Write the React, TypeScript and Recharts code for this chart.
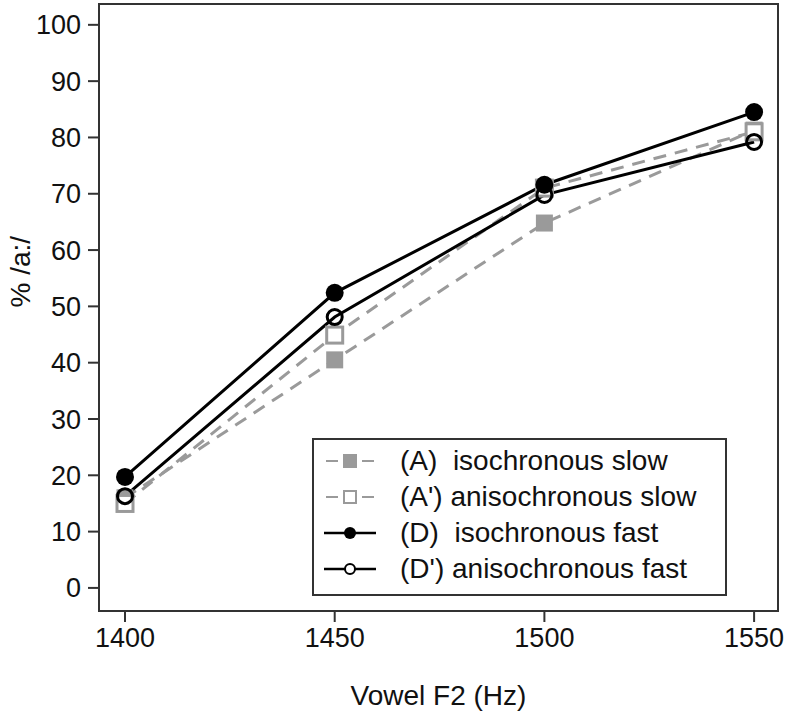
import React from 'react';
import { LineChart, Line, XAxis, YAxis, ReferenceArea } from 'recharts';

const freqs = [1400, 1450, 1500, 1550];
const isoSlow = [16, 40.5, 64.8, 81.3];
const anisoSlow = [15, 44.9, 71, 81];
const isoFast = [19.7, 52.4, 71.6, 84.5];
const anisoFast = [16.3, 48.1, 69.8, 79.2];
const yTicks = [0, 10, 20, 30, 40, 50, 60, 70, 80, 90, 100];
const legendLabels = [
  '(A)  isochronous slow',
  "(A') anisochronous slow",
  '(D)  isochronous fast',
  "(D') anisochronous fast",
];

const data = freqs.map((f, i) => ({
  f,
  a: isoSlow[i],
  ap: anisoSlow[i],
  d: isoFast[i],
  dp: anisoFast[i],
}));

const X_DOMAIN = [1393.8, 1555.7];
const Y_DOMAIN = [-4.1, 103.7];
const GRAY = '#9a9a9a';
const FONT = 'Liberation Sans, Arial, sans-serif';

function FilledSquare(props: any) {
  const { cx, cy } = props;
  return <rect x={cx - 8.5} y={cy - 8.5} width={17} height={17} fill={GRAY} />;
}

function OpenSquare(props: any) {
  const { cx, cy } = props;
  return (
    <rect x={cx - 8} y={cy - 8} width={16} height={16} fill="#fff" stroke={GRAY} strokeWidth={3} />
  );
}

function FilledCircle(props: any) {
  const { cx, cy } = props;
  return <circle cx={cx} cy={cy} r={9} fill="#000" />;
}

function OpenCircle(props: any) {
  const { cx, cy } = props;
  return <circle cx={cx} cy={cy} r={7.5} fill="none" stroke="#000" strokeWidth={3} />;
}

function LegendSymbol({ idx }: { idx: number }) {
  const slow = idx < 2;
  const color = slow ? GRAY : '#000';
  return (
    <svg width={60} height={20} style={{ display: 'block' }}>
      {slow ? (
        <>
          <line x1={6} y1={10} x2={18} y2={10} stroke={color} strokeWidth={2} />
          <line x1={42} y1={10} x2={54} y2={10} stroke={color} strokeWidth={2} />
        </>
      ) : (
        <line x1={4} y1={10} x2={56} y2={10} stroke={color} strokeWidth={2.5} />
      )}
      {idx === 0 && <rect x={23} y={3} width={14} height={14} fill={GRAY} />}
      {idx === 1 && (
        <rect x={24} y={4} width={12} height={12} fill="#fff" stroke={GRAY} strokeWidth={2} />
      )}
      {idx === 2 && <circle cx={30} cy={10} r={6} fill="#000" />}
      {idx === 3 && <circle cx={30} cy={10} r={5} fill="#fff" stroke="#000" strokeWidth={2} />}
    </svg>
  );
}

function LegendBox() {
  return (
    <div
      style={{
        position: 'absolute',
        left: 312,
        top: 438,
        boxSizing: 'border-box',
        width: 415,
        height: 158,
        border: '2px solid #333',
        background: '#fff',
        padding: '3px 0 0 6px',
        fontFamily: FONT,
        fontSize: 28,
        color: '#111',
      }}
    >
      {legendLabels.map((l, i) => (
        <div key={i} style={{ display: 'flex', alignItems: 'center', height: 36 }}>
          <LegendSymbol idx={i} />
          <span style={{ marginLeft: 20, whiteSpace: 'pre' }}>{l}</span>
        </div>
      ))}
    </div>
  );
}

export default function App() {
  return (
    <div style={{ position: 'absolute', left: 0, top: 0, width: 788, height: 711, background: '#fff' }}>
      <LineChart
        width={788}
        height={711}
        data={data}
        margin={{ top: 4, right: 10, bottom: 0, left: 0 }}
      >
        <XAxis
          dataKey="f"
          type="number"
          domain={X_DOMAIN}
          ticks={freqs}
          interval={0}
          tickSize={11}
          tickMargin={6}
          stroke="#333"
          strokeWidth={2}
          tick={{ fill: '#111', fontSize: 27, fontFamily: FONT }}
          label={{
            value: 'Vowel F2 (Hz)',
            position: 'insideBottom',
            offset: 6,
            fill: '#111',
            fontSize: 28,
            fontFamily: FONT,
          }}
          height={100}
        />
        <YAxis
          type="number"
          domain={Y_DOMAIN}
          ticks={yTicks}
          interval={0}
          width={99}
          tickSize={11}
          tickMargin={7}
          stroke="#333"
          strokeWidth={2}
          tick={{ fill: '#111', fontSize: 27, fontFamily: FONT }}
          label={{
            value: '% /a:/',
            angle: -90,
            position: 'insideLeft',
            offset: 20,
            fill: '#111',
            fontSize: 28,
            fontFamily: FONT,
          }}
        />
        <ReferenceArea
          x1={X_DOMAIN[0]}
          x2={X_DOMAIN[1]}
          y1={Y_DOMAIN[0]}
          y2={Y_DOMAIN[1]}
          fill="none"
          stroke="#333"
          strokeWidth={2}
          fillOpacity={0}
        />
        <Line
          dataKey="a"
          stroke={GRAY}
          strokeWidth={3}
          strokeDasharray="13 9"
          dot={<FilledSquare />}
          isAnimationActive={false}
        />
        <Line
          dataKey="ap"
          stroke={GRAY}
          strokeWidth={3}
          strokeDasharray="13 9"
          dot={<OpenSquare />}
          isAnimationActive={false}
        />
        <Line
          dataKey="d"
          stroke="#000"
          strokeWidth={3}
          dot={<FilledCircle />}
          isAnimationActive={false}
        />
        <Line
          dataKey="dp"
          stroke="#000"
          strokeWidth={3}
          dot={<OpenCircle />}
          isAnimationActive={false}
        />
      </LineChart>
      <LegendBox />
    </div>
  );
}
